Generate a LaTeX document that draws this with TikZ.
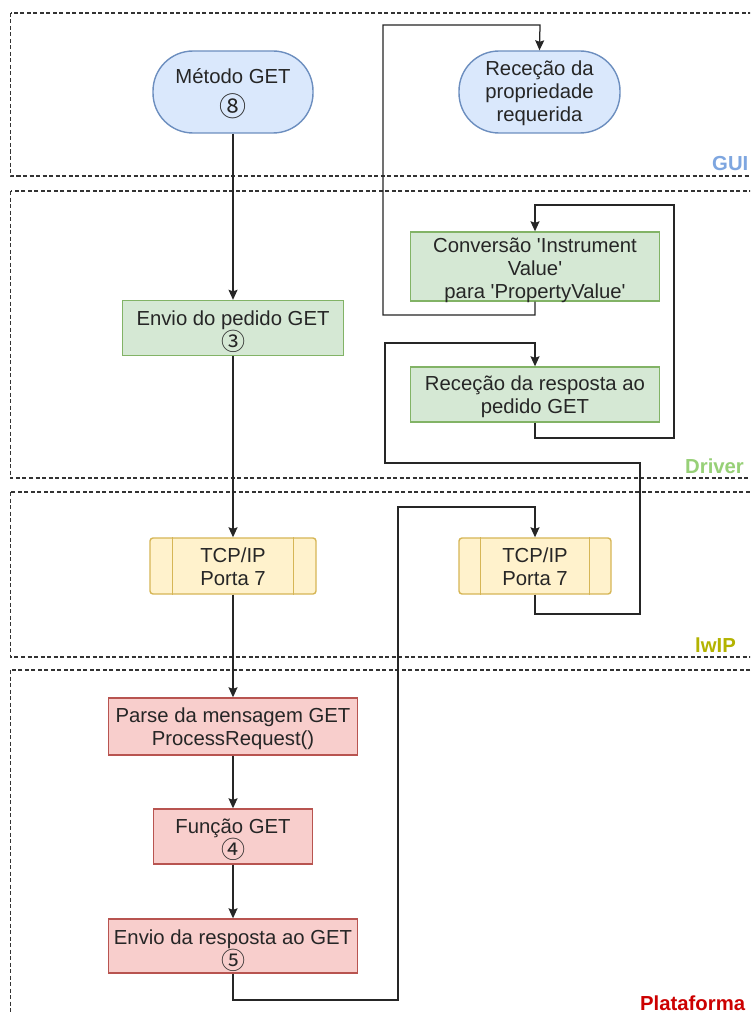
\documentclass[tikz,border=0pt]{standalone}
\usepackage{fontspec}
\setmainfont{Liberation Sans}[Ligatures=TeXOff]
\newfontfamily\symfont{Noto Sans CJK SC}
\usetikzlibrary{arrows.meta}

\definecolor{txt}{HTML}{262626}
\definecolor{lanegray}{HTML}{333333}
\definecolor{bluefill}{HTML}{DAE8FC}\definecolor{bluedraw}{HTML}{6C8EBF}
\definecolor{greenfill}{HTML}{D5E8D4}\definecolor{greendraw}{HTML}{82B366}
\definecolor{yelfill}{HTML}{FFF2CC}\definecolor{yeldraw}{HTML}{D6B656}
\definecolor{redfill}{HTML}{F8CECC}\definecolor{reddraw}{HTML}{B85450}
\definecolor{guilbl}{HTML}{7EA6E0}
\definecolor{drvlbl}{HTML}{97D077}
\definecolor{lwiplbl}{HTML}{B3B300}
\definecolor{platlbl}{HTML}{CC0000}

% multi-line cell whose reference point is the first baseline
\newcommand{\ml}[1]{\begin{tabular}[t]{@{}c@{}}#1\end{tabular}}
% circled step number, kept out of the line height
\newcommand{\cnum}[2][24]{\raisebox{-2.5pt}[0pt][0pt]{\symfont\fontsize{#1}{23}\selectfont #2}}

\tikzset{
  lane/.style={draw=lanegray, line width=1.2pt, dash pattern=on 4pt off 2.5pt},
  lanelabel/.style={font=\fontsize{20.3}{23}\selectfont\bfseries, anchor=base west, inner sep=0pt},
  box/.style={draw, line width=1.4pt, inner sep=0pt, text=txt,
    font=\fontsize{20.3}{23}\selectfont, text height=10pt, text depth=18pt},
  guibox/.style={box, fill=bluefill, draw=bluedraw, rounded corners=40pt},
  drvbox/.style={box, fill=greenfill, draw=greendraw},
  tcpbox/.style={box, fill=yelfill, draw=yeldraw, rounded corners=3pt},
  tcpin/.style={draw=yeldraw, line width=1.4pt},
  platbox/.style={box, fill=redfill, draw=reddraw},
  conn/.style={draw=black!85, line width=1.25pt, -{Stealth[length=10pt,width=9pt,inset=1.5pt]}}
}

\begin{document}
\begin{tikzpicture}[x=1pt, y=-1pt]
  \useasboundingbox (0,0) rectangle (750,1014);
  \fill[white] (0,0) rectangle (750,1014);
  \clip (0,0) rectangle (750,1014);

  % swimlanes
  \draw[lane] (10.5,13) rectangle (800,176);
  \draw[lane] (10.5,191) rectangle (800,478);
  \draw[lane] (10.5,492) rectangle (800,657);
  \draw[lane] (10.5,670) rectangle (800,1040);

  \node[lanelabel, text=guilbl] (lgui) at (712,170) {GUI};
  \node[lanelabel, text=drvlbl] (ldrv) at (685,473) {Driver};
  \node[lanelabel, text=lwiplbl] (llwip) at (695,652) {lwIP};
  \node[lanelabel, text=platlbl] (lplat) at (640,1010) {Plataforma};

  % GUI
  \node[guibox, minimum width=160pt, minimum height=82pt, text depth=26pt]
    (metodo) at (233,92) {\ml{Método GET\\[7pt]\cnum[27]{⑧}}};
  \node[guibox, minimum width=161pt, minimum height=82pt, text depth=42pt]
    (rprop) at (539.5,92) {\ml{Receção da\\propriedade\\requerida}};

  % Driver
  \node[drvbox, minimum width=221pt, minimum height=55pt, text depth=16pt]
    (envped) at (233,328) {\ml{Envio do pedido GET\\\cnum{③}}};
  \node[drvbox, minimum width=249pt, minimum height=69pt, text depth=39pt]
    (conv) at (535,266.5) {\ml{Conversão 'Instrument\\Value'\\para 'PropertyValue'}};
  \node[drvbox, minimum width=249pt, minimum height=55pt]
    (rresp) at (535,394.5) {\ml{Receção da resposta ao\\pedido GET}};

  % lwIP
  \node[tcpbox, minimum width=166pt, minimum height=56pt]
    (tcpL) at (233,566) {\ml{TCP/IP\\Porta 7}};
  \node[tcpbox, minimum width=152pt, minimum height=56pt]
    (tcpR) at (535,566) {\ml{TCP/IP\\Porta 7}};
  \draw[tcpin] ([xshift=23pt]tcpL.north west) -- ([xshift=23pt]tcpL.south west);
  \draw[tcpin] ([xshift=-23pt]tcpL.north east) -- ([xshift=-23pt]tcpL.south east);
  \draw[tcpin] ([xshift=22pt]tcpR.north west) -- ([xshift=22pt]tcpR.south west);
  \draw[tcpin] ([xshift=-22pt]tcpR.north east) -- ([xshift=-22pt]tcpR.south east);

  % Plataforma
  \node[platbox, minimum width=249pt, minimum height=57pt]
    (parse) at (233,726.5) {\ml{Parse da mensagem GET\\ProcessRequest()}};
  \node[platbox, minimum width=159pt, minimum height=55pt, text depth=17pt]
    (funcao) at (233,836.5) {\ml{Função GET\\\cnum{④}}};
  \node[platbox, minimum width=249pt, minimum height=54pt, text depth=14pt]
    (envresp) at (233,946) {\ml{Envio da resposta ao GET\\\cnum{⑤}}};

  % request path
  \draw[conn] (metodo.south) -- (envped.north);
  \draw[conn] (envped.south) -- (tcpL.north);
  \draw[conn] (tcpL.south) -- (parse.north);
  \draw[conn] (parse.south) -- (funcao.north);
  \draw[conn] (funcao.south) -- (envresp.north);

  % response path
  \draw[conn] (envresp.south) |- (398,1000) |- (535,507) -- (tcpR.north);
  \draw[conn] (tcpR.south) |- (640,614) |- (385,463) |- (535,343) -- (rresp.north);
  \draw[conn] (rresp.south) |- (674,438) |- (535,205) -- (conv.north);
  \draw[conn] (conv.south) |- (383,315) |- (540,25) -- (rprop.north);
\end{tikzpicture}
\end{document}
